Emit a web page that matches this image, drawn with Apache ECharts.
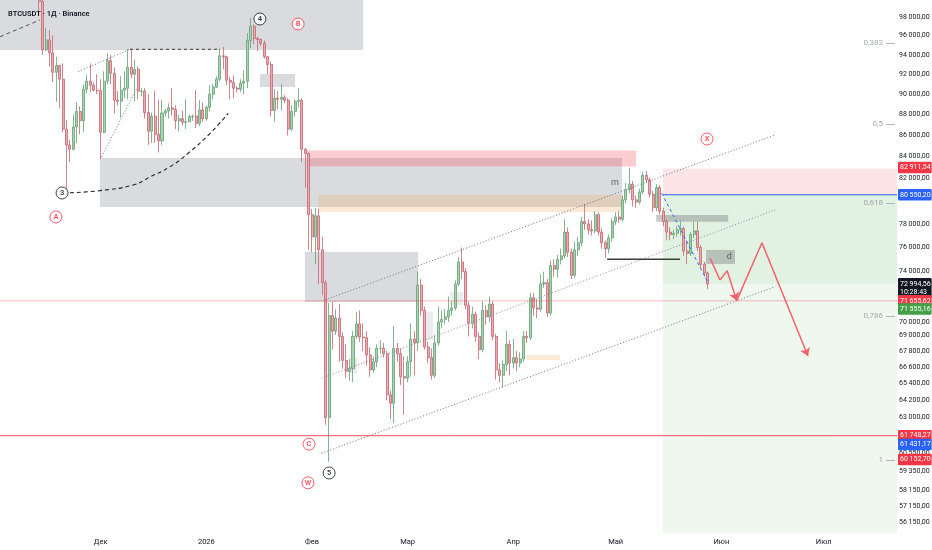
<!DOCTYPE html>
<html><head><meta charset="utf-8">
<script src="https://cdn.jsdelivr.net/npm/echarts@6/dist/echarts.min.js"></script>
<style>html,body{margin:0;padding:0;background:#fff}#c{width:932px;height:550px}</style>
</head><body><div id="c"></div>
<script>
// ---- categories (daily) ----
const firstDay = Date.UTC(2025, 10, 2), dayCount = 263;
const dates = [];
for (let k = 0; k < dayCount; k++) dates.push(new Date(firstDay + k * 864e5).toISOString().slice(0, 10));
const monthLabels = {'2025-12-01':'Дек','2026-01-01':'2026','2026-02-01':'Фев','2026-03-01':'Мар','2026-04-01':'Апр','2026-05-01':'Май','2026-06-01':'Июн','2026-07-01':'Июл'};

// ---- candles [open, close, low, high] ----
const firstCandle = '2025-11-13';
const nov = [
[101600,99700,98200,104000],[99700,94500,94000,99900],[94500,95550,94400,96800],[95550,94200,92800,96600],
[94200,92200,91200,96000],[92200,92900,89250,93800],[92900,91500,88600,92950],[91500,86600,86300,93100],
[86600,85100,80600,87500],[85100,84700,83500,85600],[84700,86800,84600,88000],[86800,88300,85300,89200],
[88300,87400,86100,88800],[87400,90500,86300,91000],[90500,91300,90100,91950],[91300,90900,90200,93100],
[90900,90400,90300,91200],[90400,90350,90000,92000]];
const dec = [
[90350,86300,83800,91500],[86300,91300,86200,92300],[91300,93400,91000,94150],[93400,92100,91000,94000],
[92100,89400,88100,92700],[89400,89300,88900,90300],[89300,90400,87700,91800],[90400,90600,89600,92300],
[90600,92700,89500,94600],[92700,92000,91600,94500],[92000,92500,89300,93500],[92500,90300,89500,92800],
[90300,90300,89800,90600],[90300,88200,87600,90600],[88200,86400,85100,90000],[86400,87850,85300,88200],
[87850,86100,85300,90350],[86100,85500,84400,89450],[85500,88150,85100,89400],[88150,88350,87800,88550],
[88350,88650,87600,89100],[88650,88500,87900,90600],[88500,87400,86600,88900],[87400,87600,86400,87950],
[87600,87250,86950,88400],[87250,87300,86600,89500],[87300,87800,87300,88000],[87800,87850,87400,88000],
[87850,87150,86700,90400],[87150,88450,86900,89400],[88450,87600,87300,89200]];
const jan = [
[87600,88700,87400,88900],[88700,90000,88300,90900],[90000,90700,89500,91000],[90700,91500,90600,91800],
[91500,93900,91300,94700],[93900,93800,92500,94800],[93800,91400,90900,93900],[91400,91200,89500,91700],
[91200,90600,89600,91900],[90600,90500,90200,90800],[90500,91100,90200,91500],[91100,91300,90000,92400],
[91300,95500,90600,96300],[95500,97000,94700,97900],[97000,95700,95100,97200],[95700,95600,94400,95900],
[95600,95200,94900,95700],[95200,93800,93600,95500],[93800,93000,92000,93900],[93000,88400,87800,93300],
[88400,89600,87300,90500],[89600,89500,88500,90300],[89500,89700,88400,91000],[89700,89400,89100,89900],
[89400,86600,86000,89600],[86600,88300,86400,88900],[88300,89300,87800,89500],[89300,89400,88700,90600],
[89400,84700,83500,89600],[84700,84300,81200,84800],[84300,78800,75800,84400]];
const feb = [
[78800,76900,75600,79300],[76900,78700,74600,79400],[78700,75800,73000,79300],[75800,73100,72100,76900],
[73100,63000,62500,73300],[63000,70500,60000,71500],[70500,69300,67900,71600],[69300,70300,69000,71000],
[70300,68900,67000,71400],[68900,67100,66500,69200],[67100,66300,65800,68300],[66300,66500,65600,67200],
[66500,68900,65500,69300],[68900,69850,68700,70800],[69850,68850,68500,70900],[68850,68800,67800,69900],
[68800,67500,66700,69300],[67500,66400,65900,68100],[66400,67000,66200,67400],[67000,68000,66600,68300],
[68000,68000,67600,68600],[68000,67600,67300,68400],[67600,64600,64200,67800],[64600,64000,62900,64900],
[64000,68000,62600,69700],[68000,67600,67000,68400],[67600,65900,65300,68000],[65900,65800,63200,67400]];
const mar = [
[65800,67000,65500,67400],[67000,68700,65900,69900],[68700,68400,66000,69300],[68400,72900,67800,74000],
[72900,70900,70500,73400],[70900,68100,67900,71200],[68100,67300,66900,68500],[67300,66000,65700,68000],
[66000,68400,65800,69000],[68400,70000,68200,71200],[70000,70200,69500,70900],[70200,70400,69800,71000],
[70400,70900,70000,72000],[70900,71100,70500,71600],[71100,73000,70900,73300],[73000,74800,72800,75200],
[74800,74000,73400,76000],[74000,71300,71000,74300],[71300,69900,68900,71600],[69900,70600,69500,71200],
[70600,68900,68500,70800],[68900,67900,67200,69200],[67900,70900,67700,71600],[70900,70400,69800,71300],
[70400,71400,70000,72000],[71400,68900,68600,71600],[68900,66400,65700,69100],[66400,66000,65500,66900],
[66000,66800,65100,67100],[66800,68300,66300,69300],[68300,66900,66000,68600]];
const apr = [
[66900,67300,66500,68700],[67300,66900,66300,67800],[66900,67200,66600,67700],[67200,68900,67000,69300],
[68900,68800,68400,69300],[68800,71900,68600,72300],[71900,71100,70500,72300],[71100,71000,70300,71800],
[71000,73000,70800,73800],[73000,73100,72700,74000],[73100,70700,70400,73400],[70700,74500,70500,74900],
[74500,74200,73600,75000],[74200,75000,73500,75400],[75000,75300,74600,75900],[75300,77300,75100,78400],
[77300,75600,75200,77700],[75600,73700,73400,75900],[73700,75800,73500,76500],[75800,76400,75300,76900],
[76400,78200,76100,78600],[78200,78000,77500,79700],[78000,77500,77100,78400],[77500,77400,77000,78300],
[77400,78800,77200,79100],[78800,77300,77000,79000],[77300,76400,75900,77600],[76400,75900,75100,76600],
[75900,76800,75500,77100],[76800,78200,76500,78500]];
const may = [
[78200,78600,77900,79000],[78600,78400,78100,79100],[78400,80100,78200,80500],[80100,81000,79800,81600],
[81000,81500,80700,83000],[81500,80100,79500,81800],[80100,79900,79400,80500],[79900,80800,79700,81100],
[80800,82300,80600,82600],[82300,81900,81600,82700],[81900,80600,80300,82100],[80600,79400,79000,80900],
[79400,81200,79100,81500],[81200,79100,78800,81400],[79100,78200,77800,79400],[78200,77300,76600,78400],
[77300,77100,76600,77700],[77100,77200,76700,77500],[77200,77500,76900,77800],[77500,77600,77000,78300],
[77600,75700,75300,77800],[75700,75500,74600,76600],[75500,77100,75300,77300],[77100,77400,76800,78200],
[77400,76000,75700,78200],[76000,74600,74300,76200],[74600,73900,73600,74800],[73900,72995,72600,74000]];

// ---- price axis tick labels ----
const priceTicks = [98000,96000,94000,92000,90000,88000,86000,84000,82000,78000,76000,74000,70000,69000,67800,66600,65400,64200,63000,60550,59350,58150,57150,56150];

// ---- drawings (x = day index, y = price) ----
const grayZones = [[-0.5,94500,106,101000],[28.8,79470,181.9,83890],[88.9,71560,122.1,75630],[75.7,90720,86,92030]];
const darkGrayZones = [[191.9,78190,213,78770],[206.5,74630,215,75793]];
const faintZones = [[102.1,66170,104.2,67280],[123.5,68630,126.5,70780],[131.4,71330,135.3,72350]];
const pinkZones = [[89.5,83100,186,84580]];
const orangeZones = [[92.8,79040,181.9,80530],[154,67135,163.7,67500]];
const stopZone = [[193.9,80550.2,262.5,82911.54]];
const profitZone = [[193.9,50000,262.5,80550.2]];
const openPnlZone = [[193.9,72994.56,262.5,80550.2]];

const channelUpper = [[94.8,71727],[226.8,86045]];
const channelMid = [[93.8,65790],[226.8,79215]];
const channelLow = [[93.8,60565],[226.8,72785]];
const novRise = [[22.5,92270],[37.6,94570]];
const decRise = [[29.3,84000],[39.6,90590]];
const topDash = [[37.6,94570],[64.0,94570]];
const leftDash = [[-0.5,95890],[11.2,97680]];
const arcPts = [[20,80730],[28.8,80920],[38.5,81420],[43.5,82150],[49.4,83090],[55.2,84470],[61.1,86200],[66.4,88120]];
const mLevel = [[177.5,75020],[198.9,75020]];
const blueDiag = [[193.5,80690],[207.2,73060]];
const entryLine = [[193.9,80550.2],[262.5,80550.2]];
const alertLine = [[-0.5,71655.62],[262.5,71655.62]];
const levelLine = [[-0.5,61748.27],[262.5,61748.27]];
const pathPts = [[207.7,75100],[210.6,73320],[212.7,74080],[215.5,71670],[222.9,76400],[236.4,67420]];
const arrowEnds = [3,5];

const waveBlack = [[17.7,80710,'3'],[75.7,97785,'4'],[96,59260,'5']];
const waveRed = [[15.9,78600,'A'],[86.9,97245,'B'],[90.1,61180,'C'],[89.8,58620,'W'],[206.8,85660,'X']];
const boxTexts = [[179.8,81600,'m'],[213.3,75200,'d']];

const fibLevels = [['0,382',95230],['0,5',87090],['0,618',79820],['0,786',70470],['1',60110]];

const priceTags = [
  {key:'stop', value:82911.54},
  {key:'entry', value:80550.20},
  {key:'last', value:72994.56, sub:'10:28:43'},
  {key:'alertA', value:71655.62},
  {key:'alertB', value:71555.16},
  {key:'level', value:61748.27},
  {key:'levelB', value:61431.17},
  {key:'levelC', value:60152.70}
];
const tagStyles = {
  stop:{bg:'#f23645', dy:-1}, entry:{bg:'#2962ff', dy:0}, last:{bg:'#131722', dy:4},
  alertA:{bg:'#f23645', dy:0}, alertB:{bg:'#43a047', dy:7}, level:{bg:'#f23645', dy:0},
  levelB:{bg:'#2962ff', dy:4}, levelC:{bg:'#f23645', dy:0}
};

// ---- build ----
const FONT = 'Roboto, "Liberation Sans", sans-serif';
const CLEAR = 'rgba(0,0,0,0)';
const fmt = v => { const s = v.toFixed(2).split('.'); return s[0].replace(/\B(?=(\d{3})+(?!\d))/g, ' ') + ',' + s[1]; };
const candles = [].concat(nov, dec, jan, feb, mar, apr, may);
const i0 = dates.indexOf(firstCandle);
const candleData = candles.map((r, k) => [i0 + k, r[0], r[1], r[2], r[3]]);

function zoneSeries(rows, fill, z) {
  return {type:'custom', xAxisIndex:1, yAxisIndex:0, clip:true, silent:true, z, data:rows,
    renderItem:(params, api) => {
      const a = api.coord([api.value(0), api.value(1)]);
      const b = api.coord([api.value(2), api.value(3)]);
      return {type:'rect', shape:{x:Math.min(a[0],b[0]), y:Math.min(a[1],b[1]), width:Math.abs(b[0]-a[0]), height:Math.abs(b[1]-a[1])}, style:{fill}};
    }};
}
function lineSeries(pts, color, type, width, smooth, z) {
  return {type:'line', xAxisIndex:1, yAxisIndex:0, data:pts, symbol:'none', showSymbol:false, smooth:!!smooth, silent:true, z:z || 3,
    lineStyle:{color, width, type}};
}
function circleSeries(rows, color) {
  return {type:'scatter', xAxisIndex:1, yAxisIndex:0, data:rows, symbol:'circle', symbolSize:12, silent:true, z:5,
    itemStyle:{color:'#fff', borderColor:color, borderWidth:1},
    label:{show:true, position:'inside', formatter:p => p.data[2], color, fontSize:7.5, fontFamily:FONT, fontWeight:'bold'}};
}
function tagSeries(t) {
  const s = tagStyles[t.key];
  return {type:'line', xAxisIndex:1, yAxisIndex:0, data:[], silent:true, z:8,
    markLine:{silent:true, animation:false, symbol:['none','none'],
      lineStyle:{color:CLEAR, width:0},
      label:{show:true, position:'end', distance:1, formatter: fmt(t.value) + (t.sub ? '\n' + t.sub : ''),
             backgroundColor:s.bg, color:'#fff', fontSize:7, lineHeight:8.5, fontFamily:FONT, padding:[2,1,1,2],
             borderRadius:1, offset:[0, s.dy]},
      data:[{yAxis:t.value}]}};
}

const arrowSegs = pathPts.slice(1).map((p, k) => [
  {coord:pathPts[k], symbol:'none'},
  {coord:p, symbol: arrowEnds.includes(k + 1) ? 'arrow' : 'none', symbolSize:8}
]);

const option = {
  animation:false,
  backgroundColor:'#ffffff',
  title:{text:'BTCUSDT · 1Д · Binance', left:3, top:5, textStyle:{fontSize:7.5, fontWeight:600, color:'#131722', fontFamily:FONT}},
  grid:{left:0, right:35, top:0, bottom:17, containLabel:false},
  xAxis:[
    {type:'category', data:dates, boundaryGap:true, axisLine:{show:false}, axisTick:{show:false}, splitLine:{show:false},
     axisLabel:{interval:(i, v) => !!monthLabels[v], formatter:v => monthLabels[v] || '', fontSize:7.5, color:'#131722', margin:5, fontFamily:FONT}},
    {type:'value', min:-0.5, max:262.5, show:false}
  ],
  yAxis:[{type:'log', logBase:10, min:55465, max:99855, position:'right', axisLine:{show:false}, axisTick:{show:false},
          axisLabel:{show:false}, splitLine:{show:false}}],
  series:[
    zoneSeries(profitZone, 'rgba(76,175,80,0.09)', 1),
    zoneSeries(openPnlZone, 'rgba(76,175,80,0.08)', 1),
    zoneSeries(stopZone, 'rgba(242,54,69,0.13)', 1),
    zoneSeries(grayZones, 'rgba(120,123,134,0.27)', 1),
    zoneSeries(faintZones, 'rgba(120,123,134,0.15)', 1),
    zoneSeries(pinkZones, 'rgba(242,54,69,0.25)', 1),
    zoneSeries(orangeZones, 'rgba(245,160,70,0.22)', 1),
    zoneSeries(darkGrayZones, 'rgba(110,112,120,0.38)', 1),
    {type:'candlestick', xAxisIndex:0, yAxisIndex:0, data:candleData, encode:{x:0, y:[1,2,3,4]}, barWidth:'74%', z:2, silent:true,
     itemStyle:{color:'#a6d3b0', color0:'#f1a8ae', borderColor:'#669f74', borderColor0:'#c06770', borderWidth:0.8}},
    lineSeries(channelUpper, '#6f727c', [1,2], 1),
    lineSeries(channelMid, '#8a8d96', [1,2], 1),
    lineSeries(channelLow, '#6f727c', [1,2], 1),
    lineSeries(novRise, '#6f727c', [1,2], 1),
    lineSeries(decRise, '#6f727c', [1,2], 1),
    lineSeries(topDash, '#333', [3,3], 1),
    lineSeries(leftDash, '#555', [4,3], 1),
    lineSeries(arcPts, '#222', [4,3], 1.1, 0.5),
    lineSeries(mLevel, '#3d3d3d', 'solid', 1.5),
    lineSeries(blueDiag, '#2962ff', [3,3], 1),
    lineSeries(entryLine, '#2962ff', 'solid', 1, false, 4),
    lineSeries(alertLine, 'rgba(242,54,69,0.35)', 'solid', 1, false, 4),
    lineSeries(levelLine, '#f0505d', 'solid', 1, false, 4),
    {type:'line', xAxisIndex:1, yAxisIndex:0, data:[], silent:true, z:4,
     markLine:{silent:true, animation:false, symbolSize:8, lineStyle:{color:'#f4606c', width:1.5, type:'solid'}, label:{show:false}, data:arrowSegs}},
    {type:'line', xAxisIndex:1, yAxisIndex:0, data:[], silent:true, z:4,
     markLine:{silent:true, animation:false, symbol:['none','none'], lineStyle:{color:'#b2b5be', width:1, type:'solid'},
       label:{show:true, position:'start', distance:3, color:'#a3a6af', fontSize:8, fontFamily:FONT},
       data:fibLevels.map(f => [{coord:[259.3, f[1]], label:{formatter:f[0]}}, {coord:[261.9, f[1]]}])}},
    circleSeries(waveBlack, '#131722'),
    circleSeries(waveRed, '#f23645'),
    {type:'scatter', xAxisIndex:1, yAxisIndex:0, data:boxTexts, symbolSize:0, silent:true, z:5,
     label:{show:true, position:'inside', formatter:p => p.data[2], color:'#444', fontSize:9, fontFamily:FONT}},
    {type:'line', xAxisIndex:1, yAxisIndex:0, data:[], silent:true, z:6,
     markLine:{silent:true, animation:false, symbol:['none','none'], lineStyle:{color:CLEAR, width:0},
       label:{show:true, position:'end', distance:2, color:'#131722', fontSize:7, fontFamily:FONT},
       data:priceTicks.map(v => ({yAxis:v, label:{formatter:fmt(v)}}))}}
  ].concat(priceTags.map(tagSeries))
};
const chart = echarts.init(document.getElementById('c'), null, {renderer:'canvas'});
chart.setOption(option);
</script></body></html>
